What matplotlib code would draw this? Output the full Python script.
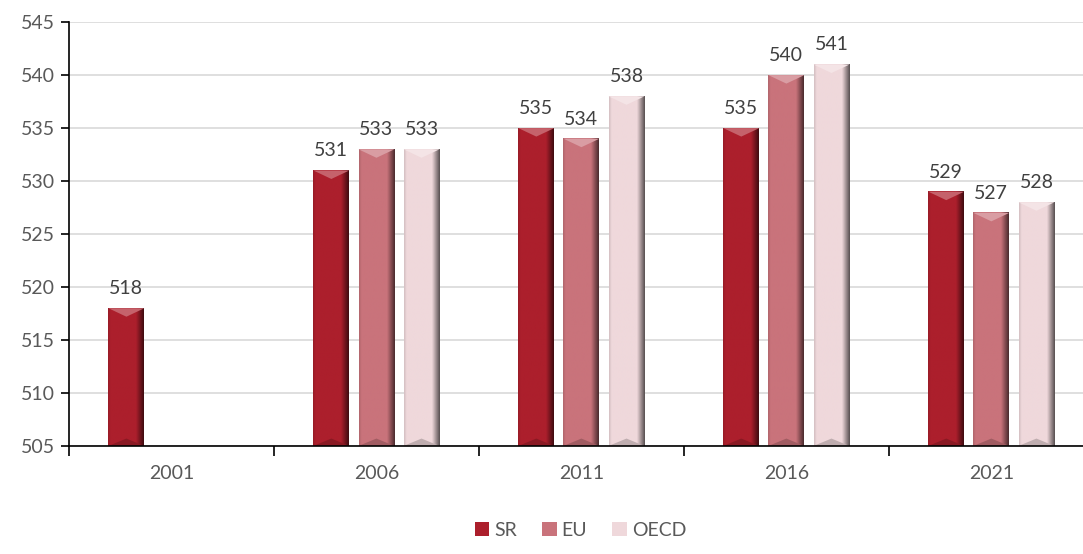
import matplotlib.pyplot as plt
import matplotlib.colors as mcolors
from matplotlib.patches import Polygon
import numpy as np

years = ['2001', '2006', '2011', '2016', '2021']
sr = [518, 531, 535, 535, 529]
eu = [np.nan, 533, 534, 540, 527]
oecd = [np.nan, 533, 538, 541, 528]

names = ['SR', 'EU', 'OECD']
colors = ['#AC1F2C', '#C9737B', '#EFD8DB']
data = [sr, eu, oecd]

plt.rcParams['font.family'] = ['Lato', 'DejaVu Sans']

fig = plt.figure(figsize=(10.83, 5.54), dpi=100)
# the right end of the axis runs a little past the picture edge, like the original
ax = fig.add_axes([0.0637, 0.195, 0.9463, 0.765])

x = np.arange(len(years))
w = 0.175
off = 0.22
base = 505


def shade(col, f):
    # f < 0 darker, f > 0 lighter
    c = np.array(mcolors.to_rgb(col))
    if f < 0:
        return c * (1 + f)
    return c + (1 - c) * f


# horizontal profile of the bevel: faint left rim, flat face, dark right rim
prof = np.concatenate([np.linspace(-0.1, 0, 3), np.zeros(22), np.linspace(-0.05, -0.6, 7)])

for i, (name, vals, col) in enumerate(zip(names, data, colors)):
    vals = np.array(vals, dtype=float)
    pos = x + (i - 1) * off
    ok = ~np.isnan(vals)
    ax.bar(pos[ok], vals[ok] - base, w, bottom=base, color=col,
           edgecolor='none', label=name, zorder=3)
    for p, v in zip(pos[ok], vals[ok]):
        img = np.array([[shade(col, f) for f in prof]])
        ax.imshow(img, extent=(p - w / 2, p + w / 2, base, v), aspect='auto',
                  interpolation='bilinear', zorder=4)
        # light chevron on top, darker one at the foot
        ax.add_patch(Polygon([(p - w / 2, v), (p + w / 2, v), (p, v - 0.8)],
                             closed=True, color=shade(col, 0.3), zorder=5, lw=0))
        ax.add_patch(Polygon([(p - w / 2, base), (p + w / 2, base), (p, base + 0.7)],
                             closed=True, color=shade(col, -0.2), zorder=5, lw=0))
        ax.annotate(f'{int(v)}', (p, v), xytext=(0, 8), textcoords='offset points',
                    ha='center', va='bottom', fontsize=14, color='#404040', zorder=6)

ax.set_ylim(505, 545)
ax.set_yticks(np.arange(505, 546, 5))
ax.set_xlim(-0.5, len(years) - 0.5)
ax.set_xticks(x)
ax.set_xticklabels(years)
ax.set_xticks(np.arange(-0.5, len(years) - 0.4, 1), minor=True)
ax.tick_params(axis='x', which='major', length=0, pad=14)
ax.tick_params(axis='x', which='minor', length=7, width=1.2, direction='out')
ax.tick_params(axis='y', length=6, width=1.2, direction='out', pad=4)
ax.tick_params(labelsize=14, labelcolor='#595959')
ax.grid(axis='y', color='#d9d9d9', linewidth=1.2, zorder=0)
for s in ['top', 'right']:
    ax.spines[s].set_visible(False)
ax.spines['left'].set_linewidth(1.2)
ax.spines['bottom'].set_linewidth(1.2)
ax.spines['left'].set_zorder(7)
ax.spines['bottom'].set_zorder(7)

handles, labels = ax.get_legend_handles_labels()
fig.legend(handles, labels, loc='center', bbox_to_anchor=(0.536, 0.043), ncol=3,
           frameon=False, fontsize=14, handlelength=0.75, handleheight=0.75,
           columnspacing=1.3, handletextpad=0.25, labelcolor='#595959')

fig.savefig('out.png', dpi=100)
